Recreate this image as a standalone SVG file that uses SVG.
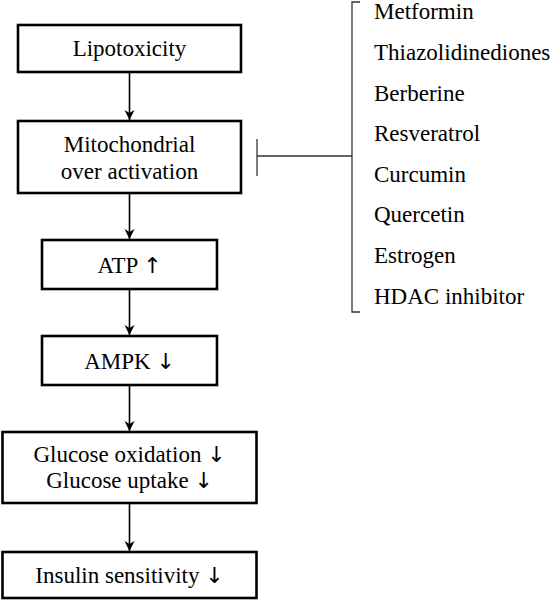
<svg xmlns="http://www.w3.org/2000/svg" width="551" height="600" viewBox="0 0 551 600">
<defs>
<style>
.box{fill:#fff;stroke:#000;stroke-width:2.6}
.t{font-family:"Liberation Serif","DejaVu Serif",serif;font-size:23px;fill:#000;text-anchor:middle}
.l{font-family:"Liberation Serif","DejaVu Serif",serif;font-size:23px;fill:#000}
.a{font-family:"DejaVu Sans",sans-serif;font-size:22px}
.c{stroke:#000;stroke-width:1.6;fill:none}
.g{stroke:#333;stroke-width:1.3;fill:none}
</style>
<marker id="ah" viewBox="0 0 10 16" refX="10" refY="8" markerWidth="10" markerHeight="16" markerUnits="userSpaceOnUse" orient="auto">
<path d="M0,3 L10,8 L0,13 L3,8 Z" fill="#000"/>
</marker>
</defs>
<rect width="551" height="600" fill="#fff"/>
<g id="connectors">
<line class="c" x1="129.5" y1="73" x2="129.5" y2="120" marker-end="url(#ah)"/>
<line class="c" x1="129.5" y1="194" x2="129.5" y2="239" marker-end="url(#ah)"/>
<line class="c" x1="129.5" y1="290" x2="129.5" y2="335" marker-end="url(#ah)"/>
<line class="c" x1="129.5" y1="386" x2="129.5" y2="431" marker-end="url(#ah)"/>
<line class="c" x1="129.5" y1="504" x2="129.5" y2="551" marker-end="url(#ah)"/>
<line class="g" x1="257" y1="156" x2="352" y2="156"/>
<line class="g" x1="257" y1="139" x2="257" y2="176"/>
<path class="g" d="M360,2 H352 V312 H360"/>
</g>
<g id="lipotoxicity">
<rect class="box" x="18" y="25" width="223" height="47"/>
<text class="t" x="129.5" y="56">Lipotoxicity</text>
</g>
<g id="mitochondrial">
<rect class="box" x="18" y="121" width="223" height="72"/>
<text class="t" x="129.5" y="152">Mitochondrial</text>
<text class="t" x="129.5" y="179">over activation</text>
</g>
<g id="atp">
<rect class="box" x="42" y="240" width="175" height="49"/>
<text class="t" x="129.5" y="273">ATP <tspan class="a">↑</tspan></text>
</g>
<g id="ampk">
<rect class="box" x="42" y="336" width="175" height="49"/>
<text class="t" x="129.5" y="369">AMPK <tspan class="a">↓</tspan></text>
</g>
<g id="glucose">
<rect class="box" x="2.5" y="432" width="254" height="71"/>
<text class="t" x="129.5" y="462">Glucose oxidation <tspan class="a">↓</tspan></text>
<text class="t" x="129.5" y="488">Glucose uptake <tspan class="a">↓</tspan></text>
</g>
<g id="insulin">
<rect class="box" x="2.5" y="552" width="254" height="46"/>
<text class="t" x="129.5" y="583">Insulin sensitivity <tspan class="a">↓</tspan></text>
</g>
<g id="inhibitors">
<text class="l" x="374" y="19">Metformin</text>
<text class="l" x="374" y="60">Thiazolidinediones</text>
<text class="l" x="374" y="101">Berberine</text>
<text class="l" x="374" y="141">Resveratrol</text>
<text class="l" x="374" y="182">Curcumin</text>
<text class="l" x="374" y="222">Quercetin</text>
<text class="l" x="374" y="263">Estrogen</text>
<text class="l" x="374" y="304">HDAC inhibitor</text>
</g>
</svg>
